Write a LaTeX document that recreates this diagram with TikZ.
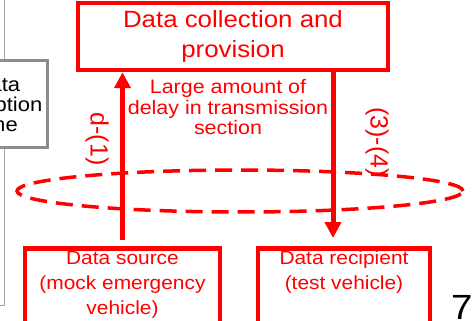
\documentclass[tikz,border=0pt]{standalone}
\usepackage{fontspec}
\setmainfont{Liberation Sans}[FakeStretch=1.1]
\newfontfamily\sidefont{Liberation Sans}
\usetikzlibrary{arrows.meta,positioning}

\begin{document}
\begin{tikzpicture}[x=1pt,y=-1pt,line join=miter,
		redbox/.style={draw=red,line width=4.5pt,inner sep=0pt},
		redtext/.style={text=red,align=center,inner sep=0pt},
		flow/.style={draw=red,line width=5pt,-{Triangle[length=16pt,width=16pt]}},
		zone/.style={draw=red,line width=3.5pt,dash pattern=on 17pt off 9pt},
		sidelabel/.style={text=red,inner sep=0pt,rotate=-90,font=\sidefont\fontsize{25}{30}\selectfont}]
		\useasboundingbox (0,0) rectangle (472,321);
		\clip (0,0) rectangle (472,321);
		% cut-off parts of the slide
		\draw[gray!70,line width=1pt] (-100,-10) rectangle (4,305);
		\node[draw=gray!90,line width=3pt,fill=white,minimum width=100pt,minimum height=87pt,inner sep=0pt,align=center,
			font=\fontsize{20}{20}\selectfont] (recept) at (-3,104.5) {Data\\reception\\time};
		\node[anchor=north west,inner sep=0pt,font=\fontsize{35}{35}\selectfont] (pagenum) at (451,295) {7};
		% boxes
		\node[redbox,minimum width=310pt,minimum height=67pt,redtext,font=\fontsize{23.5}{30}\selectfont] (collect) at (233,36.5) {Data collection and\\provision};
		\node[redbox,minimum width=195pt,minimum height=100pt,anchor=north] (source) at (122.5,246) {};
		\node[redbox,minimum width=172pt,minimum height=100pt,anchor=north] (recipient) at (344,246) {};
		\node[redtext,font=\fontsize{19}{25}\selectfont,below=5pt of source.north] (sourcetext) {Data source\\(mock emergency\\vehicle)};
		\node[redtext,font=\fontsize{19}{25}\selectfont,below=5pt of recipient.north] (recipienttext) {Data recipient\\(test vehicle)};
		% transmission
		\coordinate (downx) at (333,0);
		\draw[flow] ([yshift=6pt]source.north) -- (source.north |- collect.south);
		\draw[flow] (downx |- collect.south) -- ([yshift=8pt]downx |- recipient.north);
		\draw[zone] (240,191) ellipse [x radius=223pt,y radius=21pt];
		\node[redtext,font=\fontsize{19.5}{20.5}\selectfont] (delay) at (228,107.5) {Large amount of\\delay in transmission\\section};
		\node[sidelabel] (uplabel) at (97,139) {d-(1)};
		\node[sidelabel] (downlabel) at (377,142) {(3)-(4)};
	\end{tikzpicture}
\end{document}
